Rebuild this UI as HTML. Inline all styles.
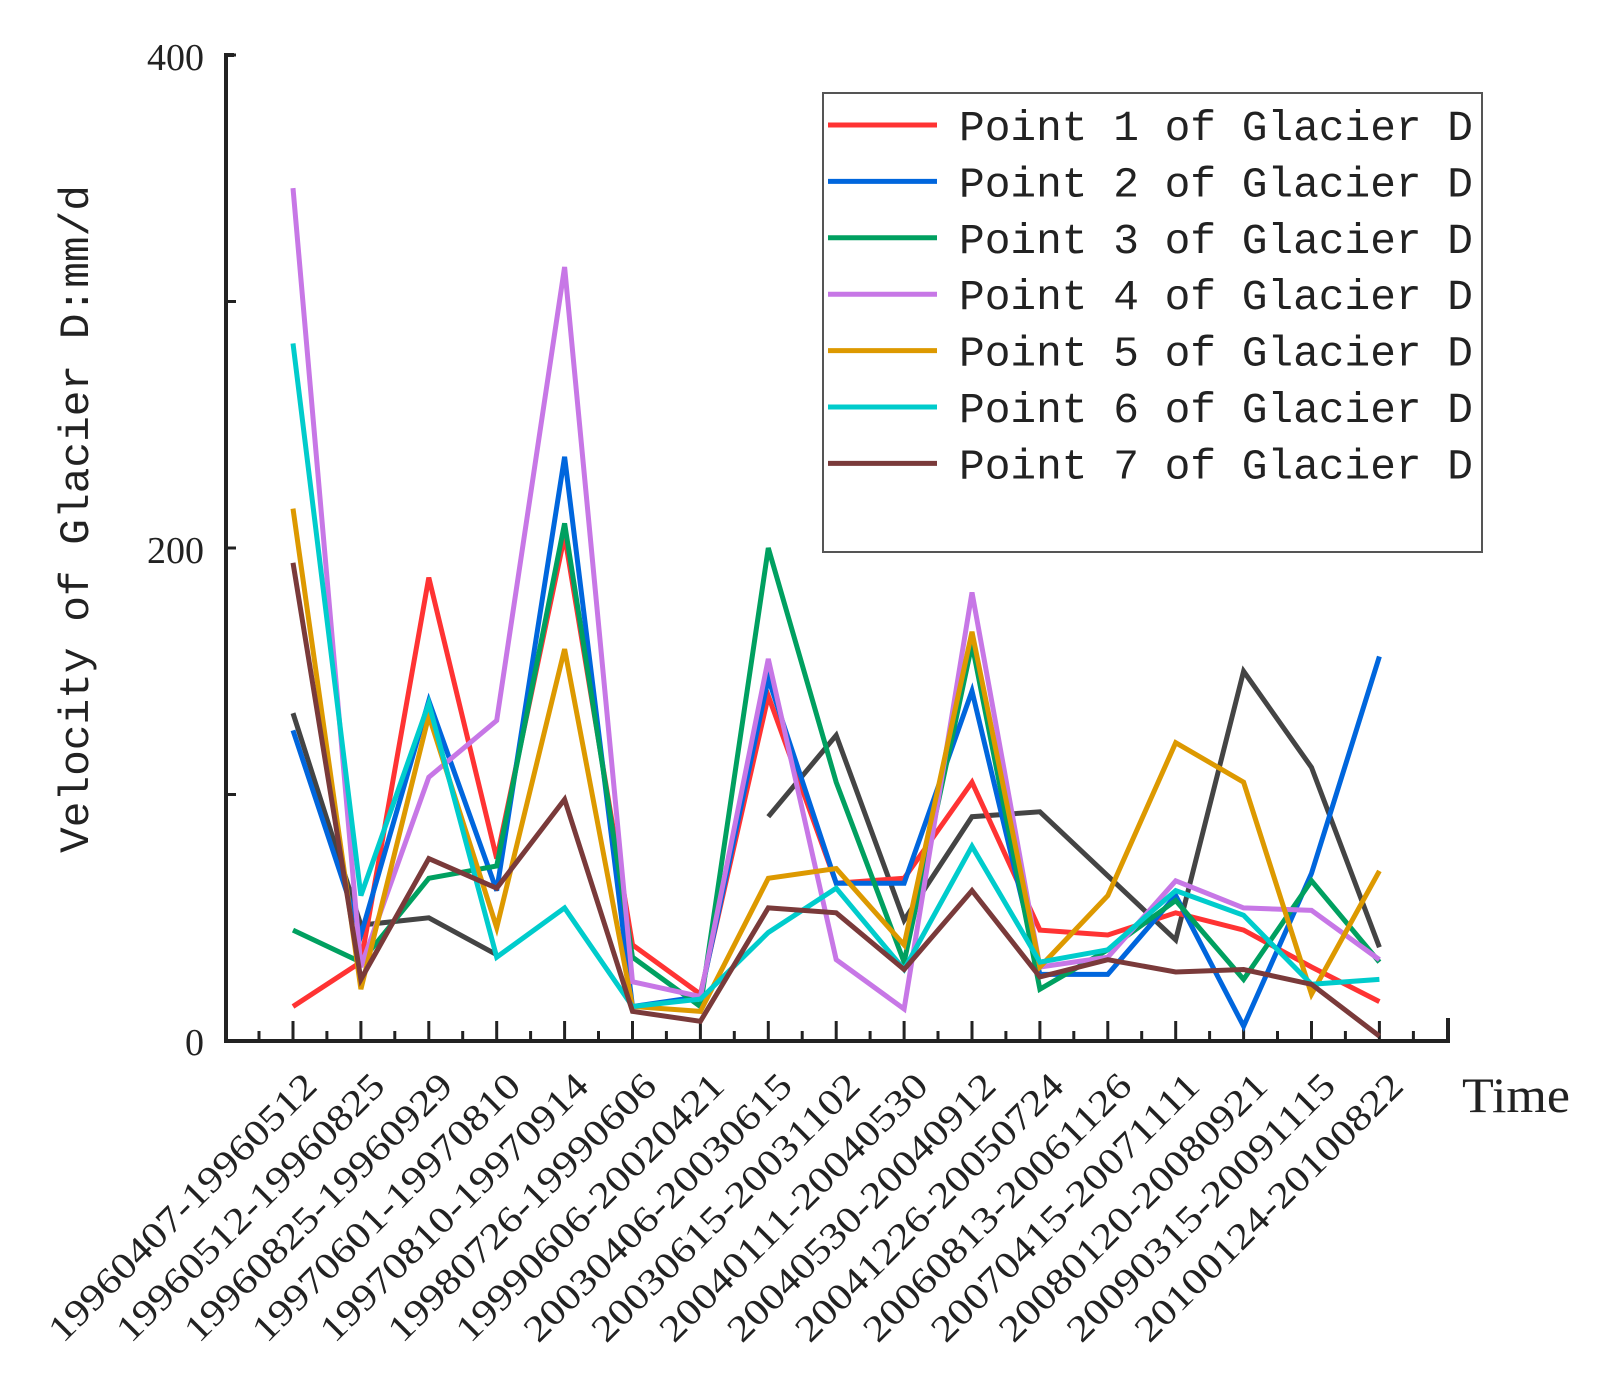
<!DOCTYPE html>
<html><head><meta charset="utf-8"><style>html,body{margin:0;padding:0;background:#fff}svg{display:block}</style></head>
<body>
<svg id="c" width="1603" height="1389" viewBox="0 0 1603 1389" xmlns="http://www.w3.org/2000/svg">
<g id="axes" stroke="#222" stroke-width="4" fill="none">
<path d="M234 55 H226 V1041 H1448 V1018"/>
</g>
<g id="ticks" stroke="#222" stroke-width="3"></g>
<g id="series" fill="none" stroke-width="5" stroke-linejoin="miter" stroke-linecap="butt"></g>
<g font-family="Liberation Serif, serif" fill="#222" font-size="38">
<text x="204" y="70" text-anchor="end">400</text>
<text x="204" y="563" text-anchor="end">200</text>
<text x="204" y="1055" text-anchor="end">0</text>
<text x="1462" y="1112" font-size="50" textLength="108" lengthAdjust="spacingAndGlyphs">Time</text>
<text transform="translate(88,519) rotate(-90)" text-anchor="middle" font-family="Liberation Mono, monospace" font-size="42" textLength="668" lengthAdjust="spacingAndGlyphs">Velocity of Glacier D:mm/d</text>
</g>
<g id="xl" font-family="Liberation Serif, serif" fill="#222" font-size="37"></g>
<rect x="823" y="93" width="659" height="459" fill="#fff" stroke="#555" stroke-width="2"/>
<g id="leg" font-family="Liberation Mono, monospace" font-size="43" fill="#222"></g>
</svg>
<script>
var NS="http://www.w3.org/2000/svg";
function el(t,a,p,txt){var e=document.createElementNS(NS,t);for(var k in a)e.setAttribute(k,a[k]);if(txt)e.textContent=txt;p.appendChild(e);return e;}
function X(i){return 293+i*67.9;}
function Y(v){return 1041-v*2.465;}
var tk=document.getElementById('ticks');
for(var i=0;i<17;i++){el('line',{x1:X(i),x2:X(i),y1:1041,y2:1021},tk);}
for(var i=0;i<17;i++){var xm=X(i)-34;el('line',{x1:xm,x2:xm,y1:1041,y2:1031},tk);}
el('line',{x1:X(16)+34,x2:X(16)+34,y1:1041,y2:1031},tk);
[0,100,200,300,400].forEach(function(v){el('line',{x1:226,x2:236,y1:Y(v),y2:Y(v)},tk);});
var labels=["19960407-19960512","19960512-19960825","19960825-19960929","19970601-19970810","19970810-19970914","19980726-19990606","19990606-20020421","20030406-20030615","20030615-20031102","20040111-20040530","20040530-20040912","20041226-20050724","20060813-20061126","20070415-20071111","20080120-20080921","20090315-20091115","20100124-20100822"];
var xl=document.getElementById('xl');
labels.forEach(function(s,i){var x=X(i)+26,y=1088;el('text',{x:x,y:y,'text-anchor':'end',transform:'rotate(-45 '+x+' '+y+')',textLength:362,lengthAdjust:'spacingAndGlyphs'},xl,s);});
var S=[
["#ff3333",[14,32,188,74,205,39,19,140,64,66,105,45,43,52,45,30,16]],
["#0066dd",[126,43,138,61,237,14,18,147,64,64,142,27,27,59,6,68,156]],
["#00a060",[45,32,66,71,210,34,14,200,105,32,161,21,37,57,25,65,32]],
["#c777e6",[346,30,107,130,314,24,18,155,33,13,182,30,34,65,54,53,33]],
["#dd9900",[216,21,132,46,159,14,12,66,70,39,166,30,59,121,105,19,69]],
["#00cccc",[283,59,137,34,54,14,17,44,62,29,79,32,37,61,51,23,25]],
["#7a3a3a",[194,25,74,62,98,12,8,54,52,29,61,26,33,28,29,23,2]]
];
var gr=document.getElementById('series');
var gray=[133,47,50,35,null,null,null,91,124,49,91,93,67,41,150,111,38];
function pl(vals,col){var seg=[];var pts=[];vals.forEach(function(v,i){if(v===null){if(pts.length)seg.push(pts);pts=[];}else pts.push(X(i).toFixed(1)+','+Y(v).toFixed(1));});if(pts.length)seg.push(pts);seg.forEach(function(p){el('polyline',{points:p.join(' '),stroke:col},gr);});}
pl(gray,'#444');
S.forEach(function(s){pl(s[1],s[0]);});
var lg=document.getElementById('leg');
S.forEach(function(s,i){var y=125+i*56.4;el('line',{x1:828,x2:937,y1:y,y2:y,stroke:s[0],'stroke-width':5},lg);el('text',{x:959,y:y+15,textLength:514,lengthAdjust:'spacingAndGlyphs'},lg,'Point '+(i+1)+' of Glacier D');});
</script>
</body></html>
